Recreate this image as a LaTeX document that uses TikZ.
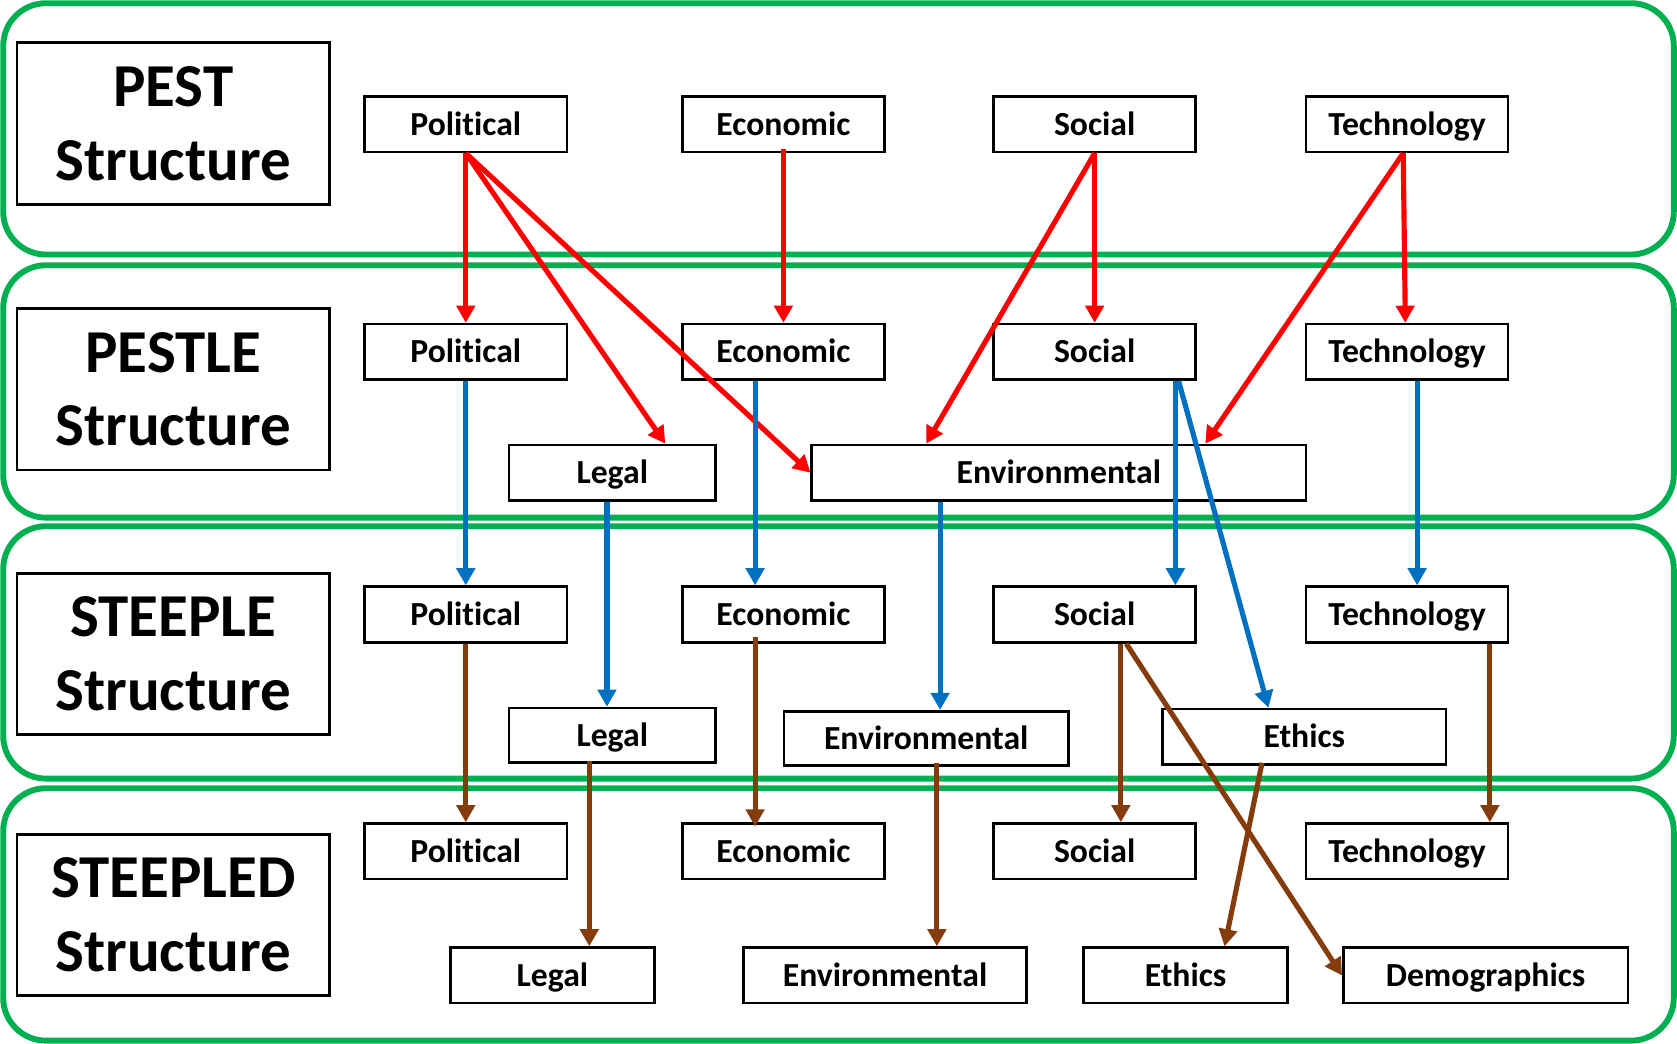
\documentclass[tikz,border=0pt]{standalone}
\usepackage{fontspec}
\setmainfont{Carlito}[Ligatures={NoCommon}]
\usetikzlibrary{arrows.meta}
\definecolor{bandgreen}{HTML}{00B050}
\definecolor{arrred}{HTML}{FF0000}
\definecolor{arrblue}{HTML}{0070C0}
\definecolor{arrbrown}{HTML}{843C0C}
\tikzset{
  band/.style={draw=bandgreen, line width=5.5pt, rounded corners=40pt},
  item/.style={draw=black, line width=2.4pt, inner sep=0pt, minimum height=52pt,
    text height=22pt, text depth=1.5pt,
    font=\fontsize{31.5}{36}\selectfont\bfseries},
  title/.style={draw=black, line width=2.4pt, inner sep=0pt, minimum width=292pt,
    minimum height=151pt, align=center, font=\fontsize{57}{69}\selectfont\bfseries},
  conn/.style={line width=4.8pt, -{Triangle[length=16pt,width=17pt]}},
  redc/.style={conn, draw=arrred, fill=arrred},
  bluec/.style={conn, draw=arrblue, fill=arrblue},
  brownc/.style={conn, draw=arrbrown, fill=arrbrown}
}
\begin{document}
\begin{tikzpicture}[x=1pt, y=-1pt]
\useasboundingbox (0,0) rectangle (1568,976);
% bands
\draw[band] (3,3) rectangle (1565,238);
\draw[band] (3,248) rectangle (1565,484);
\draw[band] (3,492) rectangle (1565,728);
\draw[band] (3,737) rectangle (1565,973);
% titles
\node[title] (t1) at (162,115.5) {PEST\\Structure};
\node[title] (t2) at (162,364) {PESTLE\\Structure};
\node[title] (t3) at (162,611.5) {STEEPLE\\Structure};
\node[title] (t4) at (162,855.5) {STEEPLED\\Structure};
% row 1
\node[item, minimum width=189pt] (p1) at (435.5,116) {Political};
\node[item, minimum width=189pt] (p2) at (732.5,116) {Economic};
\node[item, minimum width=189pt] (p3) at (1023.5,116) {Social};
\node[item, minimum width=189pt] (p4) at (1315.5,116) {Technology};
% row 2
\node[item, minimum width=189pt] (q1) at (435.5,329) {Political};
\node[item, minimum width=189pt] (q2) at (732.5,329) {Economic};
\node[item, minimum width=189pt] (q3) at (1023.5,329) {Social};
\node[item, minimum width=189pt] (q4) at (1315.5,329) {Technology};
\node[item, minimum width=193pt] (ql) at (572.5,442) {Legal};
\node[item, minimum width=462pt] (qe) at (990,442) {Environmental};
% row 3
\node[item, minimum width=189pt] (r1) at (435.5,574.5) {Political};
\node[item, minimum width=189pt] (r2) at (732.5,574.5) {Economic};
\node[item, minimum width=189pt] (r3) at (1023.5,574.5) {Social};
\node[item, minimum width=189pt] (r4) at (1315.5,574.5) {Technology};
\node[item, minimum width=193pt, minimum height=51pt] (rl) at (572.5,687.5) {Legal};
\node[item, minimum width=266pt, minimum height=51pt] (re) at (866,690.5) {Environmental};
\node[item, minimum width=265pt, minimum height=52pt] (rt) at (1219.5,689) {Ethics};
% row 4
\node[item, minimum width=189pt] (s1) at (435.5,796) {Political};
\node[item, minimum width=189pt] (s2) at (732.5,796) {Economic};
\node[item, minimum width=189pt] (s3) at (1023.5,796) {Social};
\node[item, minimum width=189pt] (s4) at (1315.5,796) {Technology};
\node[item, minimum width=191pt] (sl) at (516.5,912) {Legal};
\node[item, minimum width=265pt] (se) at (827.5,912) {Environmental};
\node[item, minimum width=191pt] (st) at (1108.5,912) {Ethics};
\node[item, minimum width=266pt] (sd) at (1389,912) {Demographics};
% red connectors
\draw[redc] (p1.south) -- (q1.north);
\draw[redc] (p1.south) -- ([xshift=49.5pt]ql.north);
\draw[redc] (p1.south) -- (qe.west);
\draw[redc] ([yshift=4pt]p2.south) -- (q2.north);
\draw[redc] (p3.south) -- (q3.north);
\draw[redc] (p3.south) -- ([xshift=-124pt]qe.north);
\draw[redc] ([xshift=-3.5pt]p4.south) -- ([xshift=-1.5pt]q4.north);
\draw[redc] ([xshift=-3.5pt]p4.south) -- ([xshift=137pt]qe.north);
% blue connectors
\draw[bluec] (q1.south) -- (r1.north);
\draw[bluec] ([xshift=-5pt]ql.south) -- ([xshift=-5pt]rl.north);
\draw[bluec] ([xshift=-26.5pt]q2.south) -- ([xshift=-26.5pt]r2.north);
\draw[bluec] ([xshift=-111pt]qe.south) -- ([xshift=13pt]re.north);
\draw[bluec] ([xshift=75.5pt]q3.south) -- ([xshift=75.5pt]r3.north);
\draw[bluec] ([xshift=78.5pt]q3.south) -- ([xshift=-33.5pt]rt.north);
\draw[bluec] ([xshift=9.5pt]q4.south) -- ([xshift=9.5pt]r4.north);
% brown connectors
\draw[brownc] (r1.south) -- (s1.north);
\draw[brownc] ([xshift=-21.5pt,yshift=3pt]rl.south) -- ([xshift=34.5pt]sl.north);
\draw[brownc] ([xshift=-26.5pt,yshift=6pt]r2.south) -- ([xshift=-26.5pt,yshift=-4pt]s2.north);
\draw[brownc] ([xshift=10pt,yshift=4pt]re.south) -- ([xshift=48.5pt]se.north);
\draw[brownc] ([xshift=24.5pt]r3.south) -- ([xshift=24.5pt]s3.north);
\draw[brownc] ([xshift=29.5pt]r3.south) -- (sd.west);
\draw[brownc] ([xshift=-39.5pt,yshift=3pt]rt.south) -- ([xshift=36.5pt]st.north);
\draw[brownc] ([xshift=77.5pt]r4.south) -- ([xshift=77.5pt]s4.north);
\end{tikzpicture}
\end{document}
